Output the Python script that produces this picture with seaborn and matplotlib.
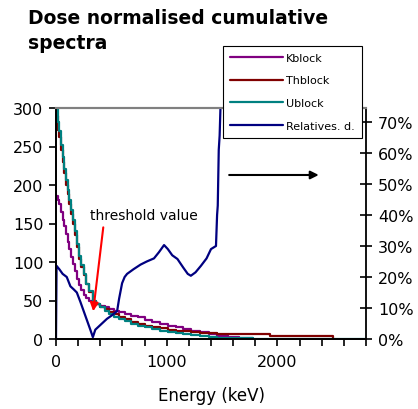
import numpy as np
import pandas as pd
import matplotlib
matplotlib.use('Agg')
import matplotlib.pyplot as plt
import seaborn as sns

# cumulative spectra, common energy grid (keV)
energy = [0, 15, 30, 45, 60, 75, 90, 105, 120, 135, 150, 170, 190, 210, 230,
          250, 275, 300, 330, 360, 400, 440, 480, 520, 570, 620, 680, 740, 800,
          870, 940, 1010, 1080, 1150, 1220, 1300, 1380, 1450, 1550, 1650, 1780,
          1930, 2100, 2300, 2506, 2800]
k_block = [186, 180, 175, 165, 155, 147, 137, 126, 117, 106, 97, 88, 78, 70, 64,
           57, 53, 50, 48, 46, 43, 41, 39, 37, 35, 33, 30, 28, 25,
           22, 20, 17, 15, 13, 11, 9, 6, 4, 2, 1, 0,
           np.nan, np.nan, np.nan, np.nan, np.nan]
th_block = [290, 272, 262, 245, 230, 216, 200, 188, 175, 162, 150, 135, 119, 104, 93,
            83, 71, 61, 50, 46, 42, 39, 35, 32, 29, 26, 22, 20, 17,
            15, 14, 12, 11, 10, 9, 8, 7.5, 7, 6.5, 6.5, 6,
            4, 4, 4, 0, np.nan]
u_block = [300, 282, 270, 252, 236, 221, 206, 193, 180, 167, 155, 140, 123, 108, 96,
           85, 72, 62, 50, 45, 41, 37, 33, 29, 26, 23, 19, 17, 15,
           13, 11, 9, 8, 7, 5, 4, 3, 1.5, 1.5, 1.5, 0.5,
           0.5, 0.5, 0.5, 0.5, 0.5]

# relative standard deviation (fraction, right axis)
sd_energy = [0, 5, 30, 60, 97, 130, 160, 188, 220, 250, 280, 310, 333, 355, 400,
             460, 500, 552, 570, 597, 620, 642, 700, 764, 820, 885, 930, 976,
             1010, 1050, 1097, 1150, 1190, 1218, 1260, 1309, 1360, 1400, 1445,
             1455, 1461, 1470, 1478, 1490]
rel_sd = [0, 0.236, 0.225, 0.21, 0.20, 0.17, 0.16, 0.15, 0.12, 0.09, 0.06, 0.03,
          0.006, 0.03, 0.045, 0.065, 0.075, 0.09, 0.13, 0.18, 0.20, 0.21, 0.225,
          0.24, 0.25, 0.26, 0.28, 0.303, 0.29, 0.27, 0.258, 0.23, 0.21, 0.204,
          0.215, 0.236, 0.26, 0.29, 0.30, 0.40, 0.43, 0.61, 0.656, 0.80]

series_names = ['Kblock', 'Thblock', 'Ublock']
series_colors = ['#800080', '#800000', '#008080']
sd_name = 'Relatives. d.'
sd_color = '#000080'

sns.set_style('ticks')
plt.rcParams['font.family'] = ['DejaVu Sans']
plt.rcParams['text.color'] = 'black'
plt.rcParams['axes.labelcolor'] = 'black'
plt.rcParams['xtick.labelcolor'] = 'black'
plt.rcParams['ytick.labelcolor'] = 'black'

fig = plt.figure(figsize=(4.18, 4.10), dpi=100)
ax = fig.add_axes([56 / 418, 1 - 340 / 410, 310 / 418, 231 / 410])
ax2 = ax.twinx()

df = pd.DataFrame({'energy': energy, 'Kblock': k_block,
                   'Thblock': th_block, 'Ublock': u_block})
for name, col in zip(series_names, series_colors):
    sub = df[['energy', name]].dropna()
    sns.lineplot(data=sub, x='energy', y=name, ax=ax, color=col, lw=1.6,
                 drawstyle='steps-post', label=name, estimator=None, sort=False)

sd_df = pd.DataFrame({'energy': sd_energy, 'sd': rel_sd})
sns.lineplot(data=sd_df, x='energy', y='sd', ax=ax2, color=sd_color, lw=1.6,
             label=sd_name, estimator=None, sort=False)

ax.set_xlim(0, 2800)
ax.set_ylim(0, 300)
ax2.set_ylim(0, 0.745)

xt = list(range(0, 2801, 200))
ax.set_xticks(xt)
ax.set_xticklabels([str(v) if v % 1000 == 0 else '' for v in xt])
ax.set_yticks(range(0, 301, 50))
ax2.set_yticks(np.arange(0, 0.71, 0.1))
ax2.set_yticklabels(['%d%%' % round(v * 100) for v in np.arange(0, 0.71, 0.1)])

ax.tick_params(axis='x', which='major', bottom=True, direction='out', length=5,
               width=1.2, color='black', labelsize=11.5, pad=6)
ax.tick_params(axis='y', which='major', left=True, direction='out', length=5,
               width=1.2, color='black', labelsize=11.5, pad=4)
ax2.tick_params(axis='y', which='major', right=True, direction='inout',
                length=9, width=1.2, color='black', labelsize=11.5, pad=4)

ax.set_xlabel('Energy (keV)', fontsize=12, labelpad=12)
ax.set_ylabel('')
ax2.set_ylabel('')

for a in (ax, ax2):
    for s in a.spines.values():
        s.set_linewidth(1.3)
        s.set_color('black')
    a.spines['top'].set_visible(True)
    a.spines['top'].set_color('#808080')
    a.spines['top'].set_linewidth(1.5)
ax2.spines['right'].set_visible(True)
ax.spines['right'].set_visible(False)

ax.annotate('threshold value', xy=(336, 36), xytext=(795, 161),
            fontsize=10, ha='center', va='center', color='black')
ax.annotate('', xy=(336, 36), xytext=(427, 145),
            arrowprops=dict(arrowstyle='-|>', color='red', lw=1.5,
                            mutation_scale=12, shrinkA=0, shrinkB=0))
ax.annotate('', xy=(2373, 213), xytext=(1564, 213),
            arrowprops=dict(arrowstyle='-|>', color='black', lw=1.5,
                            mutation_scale=12, shrinkA=0, shrinkB=0))

h1, l1 = ax.get_legend_handles_labels()
h2, l2 = ax2.get_legend_handles_labels()
ax.get_legend().remove()
ax2.get_legend().remove()
leg = fig.legend(h1 + h2, l1 + l2, loc='upper left',
                 bbox_to_anchor=(223 / 418, 1 - 47 / 410),
                 fontsize=8, frameon=True, fancybox=False, framealpha=1,
                 edgecolor='black', handlelength=4.8, labelspacing=1.15,
                 borderpad=0.6, handletextpad=0.3, borderaxespad=0)
leg.get_frame().set_linewidth(0.8)

fig.text(28 / 418, 1 - 9 / 410, 'Dose normalised cumulative\nspectra',
         fontsize=13.5, fontweight='bold', ha='left', va='top', linespacing=1.4,
         color='black')

fig.savefig('out.png', dpi=100)
